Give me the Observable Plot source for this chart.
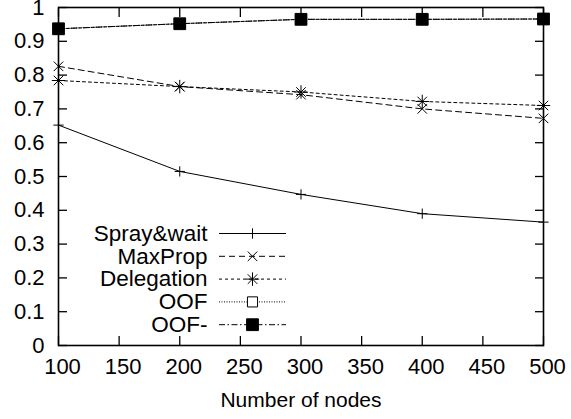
<!DOCTYPE html>
<html>
<head>
<meta charset="utf-8">
<script src="https://cdn.jsdelivr.net/npm/d3@7"></script>
<script src="https://cdn.jsdelivr.net/npm/@observablehq/plot@0.6"></script>
<style>
  html, body { margin: 0; padding: 0; background: white; overflow: hidden; }
  #chart { width: 571px; height: 419px; }
</style>
</head>
<body>
<div id="chart"></div>
<script>
// ---- data ----
const nodes = [100, 200, 300, 400, 500];
const seriesNames = ["Spray&wait", "MaxProp", "Delegation", "OOF", "OOF-"];
const sprayWait  = [0.652, 0.515, 0.447, 0.390, 0.365];
const maxProp    = [0.826, 0.766, 0.742, 0.700, 0.672];
const delegation = [0.784, 0.766, 0.750, 0.722, 0.710];
const oof        = [0.937, 0.952, 0.965, 0.965, 0.966];
const oofMinus   = [0.937, 0.952, 0.965, 0.965, 0.966];
const xTicks = [100, 150, 200, 250, 300, 350, 400, 450, 500];
const yTicks = [0, 0.1, 0.2, 0.3, 0.4, 0.5, 0.6, 0.7, 0.8, 0.9, 1];
const yTickLabels = ["0", "0.1", "0.2", "0.3", "0.4", "0.5", "0.6", "0.7", "0.8", "0.9", "1"];
const xLabel = "Number of nodes";

// ---- styles ----
const W = 571, H = 419;
const M = {left: 58, right: 28, top: 7, bottom: 74};
const styles = {
  "Spray&wait": {dash: null, symbols: ["plus"], r: 3.4, fill: "none"},
  "MaxProp":    {dash: "6,4", symbols: ["times"], r: 4.4, fill: "none"},
  "Delegation": {dash: "3,3", symbols: ["plus", "times"], r: 4.4, fill: "none"},
  "OOF":        {dash: "1,1.5", symbols: ["square"], r: 3.0, fill: "white"},
  "OOF-":       {dash: "6,2.5,1.5,2.5", symbols: ["square"], r: 3.5, fill: "black"}
};
const values = [sprayWait, maxProp, delegation, oof, oofMinus];
const rows = seriesNames.flatMap((s, i) => nodes.map((n, j) => ({series: s, nodes: n, value: values[i][j]})));

const xDomain = [100, 500], yDomain = [0, 1];
// legend layout (pixels), converted to data space
const px2x = px => xDomain[0] + (px - M.left) / (W - M.left - M.right) * (xDomain[1] - xDomain[0]);
const py2y = py => yDomain[0] + (H - M.bottom - py) / (H - M.top - M.bottom) * (yDomain[1] - yDomain[0]);
const legTextRight = 207, legLine1 = 219, legLine2 = 286, legMarker = 252, legTop = 233, legStep = 22.8;

const noText = () => "";
const marks = [Plot.frame({stroke: "black", strokeWidth: 1.6})];
marks.push(
  Plot.axisX(xTicks, {anchor: "bottom", tickSize: -9, strokeWidth: 1.3, tickFormat: noText, label: null}),
  Plot.axisX(xTicks, {anchor: "top", tickSize: -9, strokeWidth: 1.3, tickFormat: noText, label: null}),
  Plot.axisY(yTicks, {anchor: "left", tickSize: -9, strokeWidth: 1.3, tickFormat: noText, label: null}),
  Plot.axisY(yTicks, {anchor: "right", tickSize: -9, strokeWidth: 1.3, tickFormat: noText, label: null}),
  Plot.axisX(xTicks, {anchor: "bottom", tickSize: 0, tickPadding: 13, dx: 4, label: null, fontSize: 22}),
  Plot.axisX({anchor: "bottom", tickSize: 0, ticks: [], label: xLabel, labelAnchor: "center", labelArrow: "none", labelOffset: 61}),
  Plot.axisY(yTicks, {anchor: "left", tickSize: 0, tickPadding: 14, label: null, fontSize: 22, tickFormat: (d, i) => yTickLabels[i]})
);

seriesNames.forEach((s, i) => {
  const st = styles[s];
  const data = rows.filter(d => d.series === s);
  marks.push(Plot.line(data, {x: "nodes", y: "value", stroke: "black", strokeWidth: 1, strokeDasharray: st.dash}));
  st.symbols.forEach(sym => marks.push(Plot.dot(data, {x: "nodes", y: "value", symbol: () => sym, r: st.r * (sym === "square" ? 1.9 : 1), stroke: "black", strokeWidth: 1, fill: st.fill})));
  // legend entry
  const ly = py2y(legTop + i * legStep);
  const leg = [{label: s, x: px2x(legTextRight), x1: px2x(legLine1), x2: px2x(legLine2), xm: px2x(legMarker), y: ly}];
  marks.push(Plot.text(leg, {x: "x", y: "y", text: "label", textAnchor: "end", fill: "black", fontSize: 22.5}));
  marks.push(Plot.ruleY(leg, {y: "y", x1: "x1", x2: "x2", stroke: "black", strokeWidth: 1, strokeDasharray: st.dash}));
  st.symbols.forEach(sym => marks.push(Plot.dot(leg, {x: "xm", y: "y", symbol: () => sym, r: st.r * (sym === "square" ? 1.9 : 1), stroke: "black", strokeWidth: 1, fill: st.fill})));
});

const chart = Plot.plot({
  width: W, height: H,
  marginLeft: M.left, marginRight: M.right, marginTop: M.top, marginBottom: M.bottom,
  x: {domain: xDomain},
  y: {domain: yDomain},
  style: {fontFamily: "'Liberation Sans', Arial, sans-serif", fontSize: "21px", color: "black", background: "white"},
  marks
});
document.getElementById("chart").appendChild(chart);
</script>
</body>
</html>
